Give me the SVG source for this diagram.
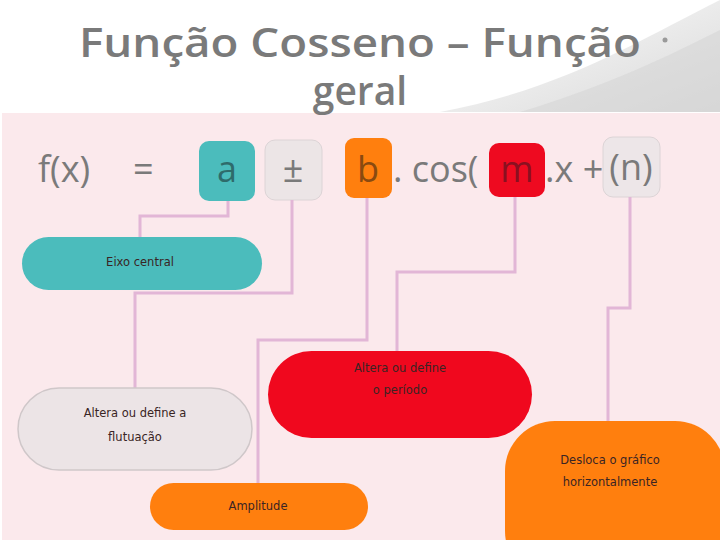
<svg xmlns="http://www.w3.org/2000/svg" width="720" height="540" viewBox="0 0 720 540">
<defs>
<linearGradient id="sw" x1="0" y1="0" x2="1" y2="1">
<stop offset="0" stop-color="#ffffff"/>
<stop offset="1" stop-color="#cfcfcf"/>
</linearGradient>
<style>
.title{font-family:"Open Sans","Noto Sans",sans-serif;font-weight:600;font-size:39px;fill:#7a7a7a;text-anchor:middle}
.eq{font-family:"Open Sans","Noto Sans",sans-serif;font-size:36px;fill:#7a7a7a}
.box{font-family:"Open Sans","Noto Sans",sans-serif;font-size:36px;text-anchor:middle}
.lbl{font-family:"DejaVu Sans",sans-serif;font-size:11.5px;fill:#3a2424;text-anchor:middle}
.con{fill:none;stroke:#e2b6d6;stroke-width:3}
</style>
</defs>
<rect width="720" height="540" fill="#ffffff"/>
<path d="M440 112 C560 90 640 40 720 0 L720 112 Z" fill="url(#sw)" opacity="0.8"/>
<path d="M520 112 C610 85 670 55 720 30 L720 112 Z" fill="#d6d6d6" opacity="0.6"/>
<rect x="2" y="113" width="718" height="427" fill="#fbe9ec"/>
<text class="title" x="360" y="57" textLength="562" lengthAdjust="spacingAndGlyphs">Função Cosseno – Função</text>
<text class="title" x="360" y="105">geral</text>
<circle cx="665" cy="40" r="2.5" fill="#9a9a9a"/>

<g id="formula">
<text class="eq" x="38" y="182">f(x)</text>
<text class="eq" x="133" y="182">=</text>
<g id="box-a"><rect x="199" y="141" width="56" height="60" rx="10" fill="#4bbcbc"/><text class="box" x="227" y="182" fill="#2e6b6b">a</text></g>
<g id="box-pm"><rect x="265" y="140" width="57" height="60" rx="10" fill="#ece5e6" stroke="#dcd4d6"/><text class="box" x="293" y="182" fill="#7a7a7a">±</text></g>
<g id="box-b"><rect x="345" y="138" width="47" height="60" rx="9" fill="#ff7f0e"/><text class="box" x="368" y="182" fill="#8a4a10">b</text></g>
<text class="eq" x="393" y="182">. cos(</text>
<g id="box-m"><rect x="489" y="143" width="56" height="54" rx="10" fill="#ee0a20"/><text class="box" x="517" y="182" fill="#8a1020">m</text></g>
<text class="eq" x="545" y="182">.x +</text>
<g id="box-n"><rect x="603" y="137" width="57" height="60" rx="10" fill="#ede6e8" stroke="#dcd4d6"/><text class="box" x="631" y="180" fill="#7a7a7a" font-size="32">(n)</text></g>
</g>

<g id="connectors">
<path class="con" d="M228 201 V216 H140 V237"/>
<path class="con" d="M292 200 V293 H135 V388"/>
<path class="con" d="M367 198 V340 H258 V483"/>
<path class="con" d="M515 197 V272 H397 V351"/>
<path class="con" d="M630 197 V308 H608 V421"/>
</g>

<g id="eixo">
<rect x="22" y="237" width="240" height="53" rx="26.5" fill="#4bbcbc"/>
<text class="lbl" x="140" y="266">Eixo central</text>
</g>
<g id="flutuacao">
<rect x="18" y="388" width="234" height="82" rx="41" fill="#ece4e6" stroke="#cfc7c9" stroke-width="1.5"/>
<text class="lbl" x="135" y="417">Altera ou define a</text>
<text class="lbl" x="135" y="441">flutuação</text>
</g>
<g id="periodo">
<rect x="268" y="351" width="264" height="87" rx="43.5" fill="#f0081e"/>
<text class="lbl" x="400" y="372">Altera ou define</text>
<text class="lbl" x="400" y="394">o período</text>
</g>
<g id="amplitude">
<rect x="150" y="483" width="218" height="47" rx="23.5" fill="#ff7f0e"/>
<text class="lbl" x="258" y="510">Amplitude</text>
</g>
<g id="desloca">
<rect x="505" y="421" width="220" height="160" rx="50" fill="#ff7f0e"/>
<text class="lbl" x="610" y="464">Desloca o gráfico</text>
<text class="lbl" x="610" y="486">horizontalmente</text>
</g>
</svg>
